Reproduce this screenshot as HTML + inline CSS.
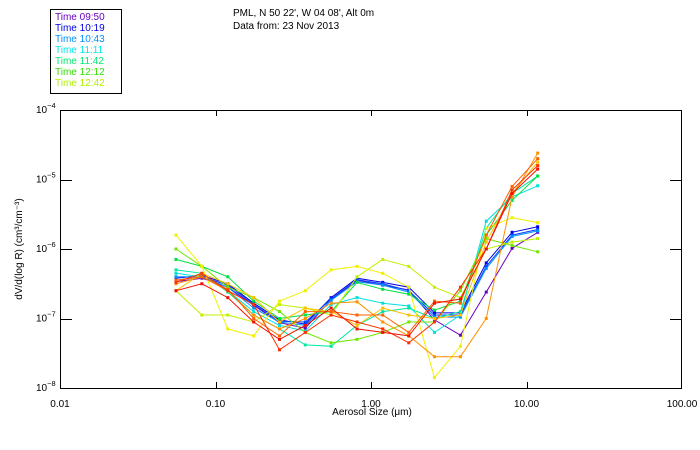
<!DOCTYPE html>
<html><head><meta charset="utf-8"><style>
body{margin:0;background:#fff;}
svg{display:block;font-family:"Liberation Sans",sans-serif;}
</style></head><body>
<svg id="chart" width="700" height="450" viewBox="0 0 700 450">
<rect x="0" y="0" width="700" height="450" fill="#fff"/>
<g>
<rect x="50.5" y="9.5" width="71" height="84" fill="none" stroke="#000"/>
<text x="55" y="20" font-size="10" fill="#6a00c0">Time 09:50</text>
<text x="55" y="31" font-size="10" fill="#0000e8">Time 10:19</text>
<text x="55" y="42" font-size="10" fill="#0090ff">Time 10:43</text>
<text x="55" y="53" font-size="10" fill="#00e8e8">Time 11:11</text>
<text x="55" y="64" font-size="10" fill="#00e870">Time 11:42</text>
<text x="55" y="75" font-size="10" fill="#30e000">Time 12:12</text>
<text x="55" y="86" font-size="10" fill="#b0f000">Time 12:42</text>
</g>
<text x="233" y="16" font-size="10">PML, N 50 22', W 04 08', Alt 0m</text>
<text x="233" y="29" font-size="10">Data from: 23 Nov 2013</text>
<g id="plot"></g>
<text x="372" y="415" font-size="10" text-anchor="middle">Aerosol Size (μm)</text>
<text transform="translate(22,249) rotate(-90)" font-size="10" text-anchor="middle">dV/d(log R) (cm³/cm⁻³)</text>
</svg>
<script>
const xTickValues=[0.01,0.1,1,10,100];
const xTickLabels=["0.01","0.10","1.00","10.00","100.00"];
const yTickExps=[-4,-5,-6,-7,-8];
const binSizes=[0.0557,0.0817,0.120,0.176,0.258,0.378,0.554,0.813,1.19,1.75,2.56,3.76,5.51,8.08,11.8];
const seriesColors=["#6a00c0","#0000e8","#0040ff","#0090ff","#00e0e0","#00e8a0","#00e040","#70e800","#c0f000","#f0f000","#ffc000","#ff9000","#ff6000","#ff3000","#f01000"];
const s1=[-6.47,-6.42,-6.55,-6.81,-7.06,-7.14,-6.73,-6.45,-6.52,-6.59,-7.02,-7.24,-6.62,-5.99,-5.76];
const s2=[-6.42,-6.38,-6.50,-6.78,-7.02,-7.08,-6.70,-6.42,-6.48,-6.55,-6.92,-6.92,-6.20,-5.76,-5.68];
const s3=[-6.45,-6.40,-6.52,-6.80,-7.04,-7.05,-6.72,-6.44,-6.50,-6.60,-6.95,-6.95,-6.25,-5.80,-5.72];
const s4=[-6.40,-6.40,-6.55,-6.85,-7.05,-7.10,-6.74,-6.47,-6.52,-6.62,-6.98,-6.98,-6.28,-5.82,-5.74];
const s5=[-6.35,-6.40,-6.60,-6.90,-7.10,-7.18,-6.80,-6.70,-6.78,-6.82,-7.20,-6.95,-5.60,-5.25,-5.09];
const s6=[-6.30,-6.35,-6.62,-6.95,-7.15,-7.38,-7.40,-7.10,-6.90,-6.85,-7.00,-6.90,-5.70,-5.20,-4.95];
const s7=[-6.15,-6.25,-6.40,-6.75,-7.00,-6.95,-6.90,-6.48,-6.58,-6.65,-6.88,-6.75,-5.80,-5.30,-4.95];
const s8=[-6.00,-6.25,-6.55,-6.70,-6.90,-7.20,-7.35,-7.30,-7.20,-7.05,-7.05,-6.60,-5.85,-5.95,-6.04];
const s9=[-6.60,-6.95,-6.95,-7.05,-6.80,-6.85,-6.95,-6.40,-6.15,-6.25,-6.55,-6.70,-6.00,-5.90,-5.85];
const s10=[-5.80,-6.25,-7.15,-7.25,-6.75,-6.60,-6.30,-6.25,-6.35,-6.55,-7.85,-7.40,-5.70,-5.55,-5.62];
const s11=[-6.60,-6.35,-6.50,-6.70,-7.05,-6.85,-6.90,-7.10,-6.85,-6.95,-7.00,-6.95,-5.90,-5.20,-4.75];
const s12=[-6.50,-6.40,-6.60,-6.95,-7.15,-7.00,-6.78,-6.76,-7.05,-7.25,-7.55,-7.55,-7.00,-5.25,-4.62];
const s13=[-6.45,-6.40,-6.58,-7.00,-7.25,-6.90,-6.90,-6.95,-6.95,-7.20,-6.75,-6.78,-5.80,-5.10,-4.70];
const s14=[-6.48,-6.35,-6.60,-6.80,-7.45,-7.20,-6.95,-7.05,-7.15,-7.35,-7.05,-6.55,-6.00,-5.15,-4.80];
const s15=[-6.60,-6.50,-6.70,-7.05,-7.30,-7.10,-6.85,-7.15,-7.20,-7.25,-6.78,-6.72,-6.00,-5.20,-4.85];
const allSeries=[s1,s2,s3,s4,s5,s6,s7,s8,s9,s10,s11,s12,s13,s14,s15];

const L=60,R=682,T=110,B=388;
const xScale=v=>L+(Math.log10(v)+2)/4*(R-L);
const yScale=e=>T+(-4-e)/4*(B-T);
const NS="http://www.w3.org/2000/svg";
const plot=document.getElementById('plot');
function mk(tag,attrs){const el=document.createElementNS(NS,tag);for(const k in attrs)el.setAttribute(k,attrs[k]);plot.appendChild(el);return el;}

allSeries.forEach((s,i)=>{
  const pts=s.map((e,j)=>xScale(binSizes[j]).toFixed(1)+","+yScale(e).toFixed(1)).join(" ");
  const line=mk('polyline',{points:pts,fill:"none",stroke:seriesColors[i],"stroke-width":1});
  
  
  s.forEach((e,j)=>{
    const m=mk('rect',{x:xScale(binSizes[j])-1.5,y:yScale(e)-1.5,width:3,height:3,fill:seriesColors[i]});
    
    
  });
});

const frame=mk('rect',{x:L+0.5,y:T+0.5,width:R-L-1,height:B-T,fill:"none",stroke:"#000","stroke-width":1});



xTickValues.forEach((v,i)=>{
  const x=Math.round(xScale(v))+0.5;
  if(i>0&&i<xTickValues.length-1){
    const t1=mk('line',{x1:x,x2:x,y1:B,y2:B-6,stroke:"#000"});
    
    
    const t2=mk('line',{x1:x,x2:x,y1:T,y2:T+6,stroke:"#000"});
    
    
  }
  const lb=mk('text',{x:xScale(v),y:B+19,"font-size":10,"text-anchor":"middle"});
  lb.textContent=xTickLabels[i];
  
  
});

yTickExps.forEach((e,i)=>{
  const y=Math.round(yScale(e))+0.5;
  if(i>0&&i<yTickExps.length-1){
    const t1=mk('line',{x1:L,x2:L+12,y1:y,y2:y,stroke:"#000"});
    
    
    const t2=mk('line',{x1:R,x2:R-12,y1:y,y2:y,stroke:"#000"});
    
    
  }
  const lb=mk('text',{x:36,y:yScale(e)+3,"font-size":10});
  lb.textContent="10";
  const sup=document.createElementNS(NS,'tspan');
  sup.setAttribute('dy','-5');
  sup.setAttribute('font-size','7.5');
  sup.textContent=String(e).replace('-','−');
  lb.appendChild(sup);
  
  
});
</script>
</body></html>
